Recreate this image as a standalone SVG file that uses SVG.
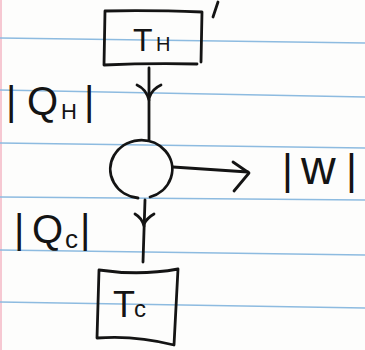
<svg xmlns="http://www.w3.org/2000/svg" width="365" height="350" viewBox="0 0 365 350">
<style>
.rule{stroke:#8dbbe0;stroke-width:1.5;fill:none}
.ink{stroke:#141414;stroke-width:2.8;fill:none;stroke-linecap:round;stroke-linejoin:round}
.t{font-family:"Liberation Sans","DejaVu Sans",sans-serif;fill:#141414}
</style>
<rect width="365" height="350" fill="#fdfdfc"/>
<g id="paper">
<line x1="1" y1="0" x2="1" y2="350" stroke="#f6c8d2" stroke-width="2"/>
<path class="rule" d="M0,38 L365,43"/>
<path class="rule" d="M0,90 L365,97"/>
<path class="rule" d="M0,143 L365,148"/>
<path class="rule" d="M0,197 L365,200"/>
<path class="rule" d="M0,250 L365,255"/>
<path class="rule" d="M0,302 L365,308"/>
</g>
<g id="hot">
<path class="ink" d="M105,11 Q150,10 202,12 L201,62 M105,11 L104,65 Q150,63 197,64"/>
<path class="ink" d="M218,2 L213,17"/>
<text class="t" x="133" y="51" font-size="32">T<tspan x="156" font-size="20">H</tspan></text>
</g>
<g id="engine">
<path class="ink" d="M138,198 A31,29 0 1 1 150,197"/>
</g>
<g id="cold">
<path class="ink" d="M99,270 Q140,276 178,269 L174,345 Q135,335 97,338 L99,270"/>
<text class="t" x="113" y="317" font-size="36">T<tspan x="134" font-size="24">c</tspan></text>
</g>
<g id="connectors">
<path class="ink" d="M149,68 L149,140"/>
<path class="ink" d="M137,85 Q146,89 149,100 M161,85 Q152,89 149,98"/>
<path class="ink" d="M145,200 L143,262"/>
<path class="ink" d="M135,214 Q142,218 144,226 M154,214 Q147,218 144,224"/>
<path class="ink" d="M173,167 L248,172"/>
<path class="ink" d="M233,162 L249,173 L234,191"/>
</g>
<g id="labels">
<text class="t" x="6" y="115" font-size="40">|<tspan x="27">Q</tspan><tspan x="61" font-size="22" dy="4">H</tspan><tspan x="84" dy="-4">|</tspan></text>
<text class="t" x="14" y="243" font-size="40">|<tspan x="32">Q</tspan><tspan x="65" font-size="26" dy="5">c</tspan><tspan x="80" dy="-5">|</tspan></text>
<text class="t" x="282" y="184" font-size="42">|<tspan x="301" font-size="48">w</tspan><tspan x="346">|</tspan></text>
</g>
</svg>
